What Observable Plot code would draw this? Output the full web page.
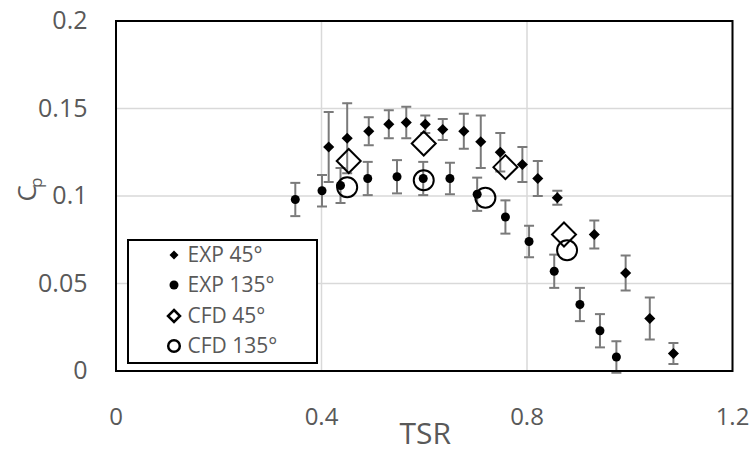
<!DOCTYPE html>
<html>
<head>
<meta charset="utf-8">
<script src="https://cdn.jsdelivr.net/npm/d3@7"></script>
<script src="https://cdn.jsdelivr.net/npm/@observablehq/plot@0.6"></script>
<style>
  html, body { margin: 0; padding: 0; background: white; }
  #wrap { position: relative; width: 752px; height: 455px; overflow: hidden; }
  #legend { position: absolute; left: 127px; top: 239px; }
</style>
</head>
<body>
<div id="wrap"></div>
<script>
// ---- data ----
const xTicks = [0, 0.4, 0.8, 1.2];
const yTicks = [0, 0.05, 0.1, 0.15, 0.2];

const exp45Tsr = [0.414, 0.450, 0.492, 0.531, 0.565, 0.602, 0.636, 0.677, 0.710, 0.748, 0.791, 0.821, 0.859, 0.931, 0.992, 1.039, 1.085];
const exp45Cp  = [0.128, 0.133, 0.137, 0.141, 0.142, 0.141, 0.138, 0.137, 0.131, 0.125, 0.118, 0.110, 0.099, 0.078, 0.056, 0.030, 0.010];
const exp45Err = [0.020, 0.020, 0.008, 0.008, 0.009, 0.005, 0.006, 0.010, 0.015, 0.011, 0.010, 0.010, 0.004, 0.008, 0.010, 0.012, 0.006];

const exp135Tsr = [0.349, 0.401, 0.437, 0.490, 0.547, 0.598, 0.650, 0.703, 0.758, 0.804, 0.853, 0.903, 0.942, 0.974];
const exp135Cp  = [0.098, 0.103, 0.106, 0.110, 0.111, 0.110, 0.110, 0.101, 0.088, 0.074, 0.057, 0.038, 0.023, 0.008];
const exp135Err = [0.0095, 0.009, 0.010, 0.0095, 0.0095, 0.0095, 0.009, 0.0095, 0.0095, 0.009, 0.0095, 0.0095, 0.0095, 0.009];

const cfd45Tsr = [0.453, 0.599, 0.758, 0.872];
const cfd45Cp  = [0.120, 0.130, 0.1165, 0.078];

const cfd135Tsr = [0.450, 0.599, 0.719, 0.878];
const cfd135Cp  = [0.105, 0.109, 0.099, 0.069];

const seriesNames = ["EXP 45°", "EXP 135°", "CFD 45°", "CFD 135°"];

// ---- tables ----
const exp45 = exp45Tsr.map((x, i) => ({x, y: exp45Cp[i], e: exp45Err[i]}));
const exp135 = exp135Tsr.map((x, i) => ({x, y: exp135Cp[i], e: exp135Err[i]}));
const cfd45 = cfd45Tsr.map((x, i) => ({x, y: cfd45Cp[i]}));
const cfd135 = cfd135Tsr.map((x, i) => ({x, y: cfd135Cp[i]}));
const expAll = exp45.concat(exp135);

const capSymbol = { draw(ctx, size) { ctx.moveTo(-5, 0); ctx.lineTo(5, 0); } };
const errColor = "#7a7a7a";
const txtColor = "#595959";
const fmt = d => String(d);

const chart = Plot.plot({
  width: 752,
  height: 455,
  marginLeft: 115.5,
  marginRight: 20,
  marginTop: 20.5,
  marginBottom: 84.5,
  style: { fontFamily: "'Open Sans', sans-serif", background: "white", overflow: "visible" },
  x: { domain: [0, 1.2] },
  y: { domain: [0, 0.2] },
  marks: [
    Plot.gridX(xTicks, { stroke: "#d9d9d9", strokeOpacity: 1, strokeWidth: 1.5 }),
    Plot.gridY(yTicks, { stroke: "#d9d9d9", strokeOpacity: 1, strokeWidth: 1.5 }),
    Plot.axisX(xTicks, { tickSize: 0, tickPadding: 37, fontSize: 24, fill: txtColor, tickFormat: fmt, label: null }),
    Plot.axisY(yTicks, { tickSize: 0, tickPadding: 28.5, fontSize: 25, fill: txtColor, tickFormat: fmt, label: null }),
    Plot.ruleX(expAll, { x: "x", y1: d => d.y - d.e, y2: d => d.y + d.e, stroke: errColor, strokeWidth: 2 }),
    Plot.dot(expAll, { x: "x", y: d => d.y + d.e, symbol: capSymbol, stroke: errColor, strokeWidth: 2, fill: "none" }),
    Plot.dot(expAll, { x: "x", y: d => d.y - d.e, symbol: capSymbol, stroke: errColor, strokeWidth: 2, fill: "none" }),
    Plot.dot(cfd45, { x: "x", y: "y", symbol: "diamond2", r: 10.8, stroke: "black", strokeWidth: 2, fill: "none" }),
    Plot.dot(cfd135, { x: "x", y: "y", symbol: "circle", r: 10, stroke: "black", strokeWidth: 2, fill: "none" }),
    Plot.dot(exp45, { x: "x", y: "y", symbol: "diamond2", r: 5, fill: "black", stroke: "none" }),
    Plot.dot(exp135, { x: "x", y: "y", symbol: "circle", r: 4.5, fill: "black", stroke: "none" }),
    Plot.frame({ stroke: "black", strokeWidth: 2 }),
    Plot.text(["TSR"], { text: d => d, frameAnchor: "bottom", dx: 1, dy: 73, fontSize: 30, fill: txtColor }),
    Plot.text(["C"], { text: d => d, frameAnchor: "left", dx: -88.5, dy: 5.5, rotate: -90, fontSize: 26, fill: txtColor }),
    Plot.text(["p"], { text: d => d, frameAnchor: "left", dx: -79.5, dy: -8, rotate: -90, fontSize: 17, fill: txtColor })
  ]
});

const wrap = document.getElementById("wrap");
wrap.appendChild(chart);

// ---- legend (overlay with real text) ----
const leg = d3.select(wrap).append("svg")
  .attr("id", "legend")
  .attr("width", 192).attr("height", 126)
  .style("font-family", "'Open Sans', sans-serif");
leg.append("rect").attr("x", 1).attr("y", 1).attr("width", 189).attr("height", 123)
  .attr("fill", "white").attr("stroke", "black").attr("stroke-width", 2);
const rowY = [16, 46, 77, 107];
const mx = 47;
const diamond = (cx, cy, h) => `M${cx},${cy - h}L${cx + h},${cy}L${cx},${cy + h}L${cx - h},${cy}Z`;
leg.append("path").attr("d", diamond(mx, rowY[0], 4.5)).attr("fill", "black");
leg.append("circle").attr("cx", mx).attr("cy", rowY[1]).attr("r", 4.5).attr("fill", "black");
leg.append("path").attr("d", diamond(mx, rowY[2], 6)).attr("fill", "none").attr("stroke", "black").attr("stroke-width", 2.5);
leg.append("circle").attr("cx", mx).attr("cy", rowY[3]).attr("r", 5.8).attr("fill", "none").attr("stroke", "black").attr("stroke-width", 2.5);
seriesNames.forEach((name, i) => {
  leg.append("text").attr("x", 60.5).attr("y", rowY[i]).attr("dy", "0.35em")
    .attr("font-size", 21).attr("fill", txtColor).text(name);
});
</script>
</body>
</html>
